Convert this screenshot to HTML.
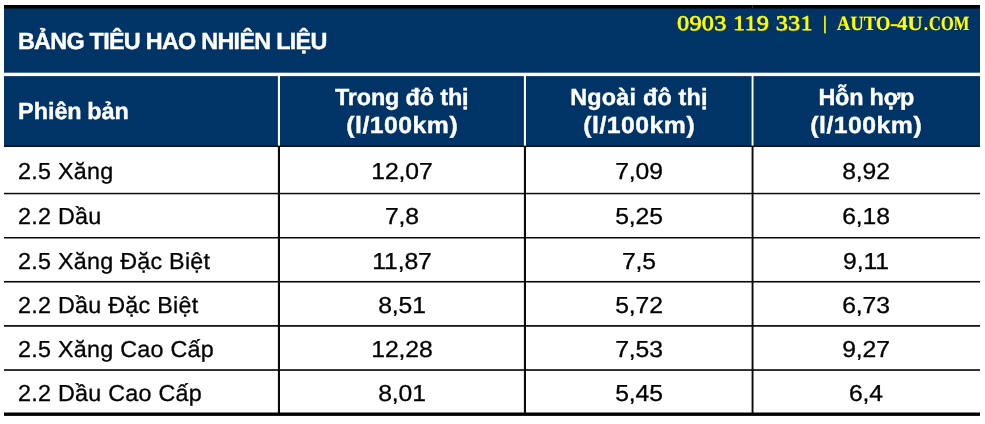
<!DOCTYPE html>
<html lang="vi">
<head>
<meta charset="utf-8">
<title>Bảng tiêu hao nhiên liệu</title>
<style>
html,body{margin:0;padding:0;background:#fff;}
body{width:985px;height:424px;position:relative;overflow:hidden;font-family:"Liberation Sans",sans-serif;}
svg.geo{position:absolute;left:0;top:0;}
.t{position:absolute;white-space:nowrap;line-height:40px;transform-origin:0 0;text-rendering:geometricPrecision;}
.w{color:#fff;font-weight:bold;font-size:23.4px;-webkit-text-stroke:0.4px #fff;}
.k{color:#000;letter-spacing:0.25px;font-size:23.1px;-webkit-text-stroke:0.3px #000;transform:scaleX(1.01);}
.c{text-align:center;width:300px;transform-origin:50% 0;box-sizing:border-box;}
.n{letter-spacing:-0.1px;padding-left:0;transform:scaleX(1.07);}
.u{letter-spacing:0.45px;padding-left:0.45px;transform:scaleX(1.06);}
.title{letter-spacing:-0.73px;transform:none;}
.wm{font-family:"Liberation Serif",serif;font-weight:bold;color:#ffff00;font-size:21px;transform:none;text-shadow:0.5px 0.5px 0 #9a8a20;}
.wmwrap{position:absolute;left:0;top:0;width:985px;height:60px;font-size:0;}
.wa{font-size:20.4px;text-shadow:-0.5px 0 0 #9a8a20;}
</style>
</head>
<body>
<svg class="geo" width="985" height="424" viewBox="0 0 985 424">
<rect x="4" y="5" width="976" height="141.3" fill="#003366"/>
<rect x="4" y="5" width="976" height="3.5" fill="#000"/>
<rect x="751.9" y="5.4" width="1.2" height="2.6" fill="#333"/>
<rect x="4" y="72.7" width="976" height="3.4" fill="#fff"/>
<rect x="277.9" y="76" width="2.1" height="70" fill="#fff"/>
<rect x="523.9" y="76" width="2.1" height="70" fill="#fff"/>
<rect x="751.6" y="76" width="1.9" height="70" fill="#fff"/>
<rect x="4" y="145.6" width="976" height="1.3" fill="#000"/>
<g fill="#0a0a0a">
<rect x="4" y="192.8" width="976" height="1.5"/>
<rect x="4" y="237" width="976" height="1.5"/>
<rect x="4" y="280.95" width="976" height="1.6"/>
<rect x="4" y="325.05" width="976" height="1.7"/>
<rect x="4" y="369.2" width="976" height="1.65"/>
<rect x="277.9" y="146" width="2.1" height="267"/>
<rect x="523.9" y="146" width="2.1" height="267"/>
<rect x="751.6" y="146" width="1.9" height="267"/>
</g>
<rect x="4" y="412.5" width="976" height="3.4" fill="#000"/>
</svg>

<div class="t w title" style="left:17.9px;top:21.1px;">BẢNG TIÊU HAO NHIÊN LIỆU</div>
<div class="wmwrap"><span class="t wm" style="left:677.3px;top:2.9px;letter-spacing:0.3px;font-weight:normal;-webkit-text-stroke:0.55px #ffff00;transform:scaleX(1.148);">0903 119 331</span> <span class="t wm" style="left:822.7px;top:3.6px;font-size:19px;">|</span> <span class="t wm wa" style="left:836.8px;top:3.6px;transform:scaleX(0.912);">AUTO</span><span class="t wm wa" style="left:889.6px;top:3.6px;transform:scaleX(1.3);">-</span><span class="t wm wa" style="left:897.2px;top:3.6px;transform:scaleX(1.04);">4U</span><span class="t wm wa" style="left:924.3px;top:3.6px;transform:scaleX(0.8);">.</span><span class="t wm wa" style="left:929.2px;top:3.6px;transform:scaleX(0.812);">COM</span></div>
<div class="t w" style="left:18.1px;top:91.1px;letter-spacing:-0.03px;word-spacing:-0.8px;">Phiên bản</div>
<div class="t w c" style="left:251.7px;top:76.8px;letter-spacing:-0.14px;padding-left:-0.14px;">Trong đô thị</div>
<div class="t w c u" style="left:251.7px;top:105.0px;">(l/100km)</div>
<div class="t w c" style="left:488.9px;top:76.8px;letter-spacing:0.2px;padding-left:0.2px;">Ngoài đô thị</div>
<div class="t w c u" style="left:488.9px;top:105.0px;">(l/100km)</div>
<div class="t w c" style="left:716.3px;top:76.8px;letter-spacing:-0.2px;padding-left:-0.2px;">Hỗn hợp</div>
<div class="t w c u" style="left:716.3px;top:105.0px;">(l/100km)</div>
<div class="t k" style="left:18.2px;top:151px;">2.5 Xăng</div>
<div class="t k c n" style="left:251.7px;top:151px;">12,07</div>
<div class="t k c n" style="left:488.9px;top:151px;">7,09</div>
<div class="t k c n" style="left:716.3px;top:151px;">8,92</div>
<div class="t k" style="left:18.2px;top:196px;">2.2 Dầu</div>
<div class="t k c n" style="left:251.7px;top:196px;">7,8</div>
<div class="t k c n" style="left:488.9px;top:196px;">5,25</div>
<div class="t k c n" style="left:716.3px;top:196px;">6,18</div>
<div class="t k" style="left:18.2px;top:241px;">2.5 Xăng Đặc Biệt</div>
<div class="t k c n" style="left:251.7px;top:241px;">11,87</div>
<div class="t k c n" style="left:488.9px;top:241px;">7,5</div>
<div class="t k c n" style="left:716.3px;top:241px;">9,11</div>
<div class="t k" style="left:18.2px;top:285px;">2.2 Dầu Đặc Biệt</div>
<div class="t k c n" style="left:251.7px;top:285px;">8,51</div>
<div class="t k c n" style="left:488.9px;top:285px;">5,72</div>
<div class="t k c n" style="left:716.3px;top:285px;">6,73</div>
<div class="t k" style="left:18.2px;top:329px;">2.5 Xăng Cao Cấp</div>
<div class="t k c n" style="left:251.7px;top:329px;">12,28</div>
<div class="t k c n" style="left:488.9px;top:329px;">7,53</div>
<div class="t k c n" style="left:716.3px;top:329px;">9,27</div>
<div class="t k" style="left:18.2px;top:373px;">2.2 Dầu Cao Cấp</div>
<div class="t k c n" style="left:251.7px;top:373px;">8,01</div>
<div class="t k c n" style="left:488.9px;top:373px;">5,45</div>
<div class="t k c n" style="left:716.3px;top:373px;">6,4</div>
</body>
</html>
